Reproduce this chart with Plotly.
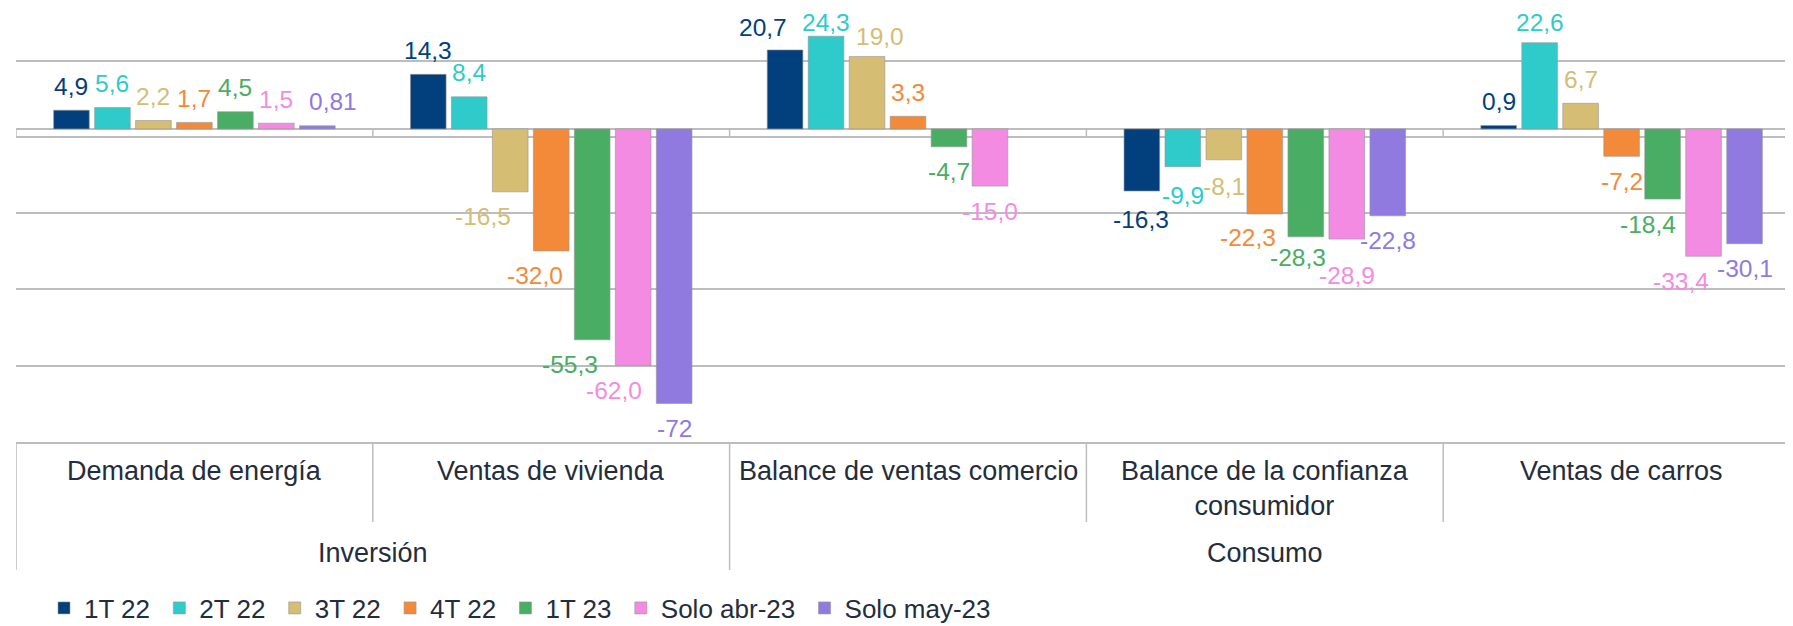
import plotly.graph_objects as go

# ---------------- data ----------------
categories = ["Demanda de energía", "Ventas de vivienda", "Balance de ventas comercio",
              "Balance de la confianza<br>consumidor", "Ventas de carros"]
groups = ["Inversión", "Consumo"]
group_members = [[0, 1], [2, 3, 4]]

series_names = ["1T 22", "2T 22", "3T 22", "4T 22", "1T 23", "Solo abr-23", "Solo may-23"]
s_1t22 = [4.9, 14.3, 20.7, -16.3, 0.9]
s_2t22 = [5.6, 8.4, 24.3, -9.9, 22.6]
s_3t22 = [2.2, -16.5, 19.0, -8.1, 6.7]
s_4t22 = [1.7, -32.0, 3.3, -22.3, -7.2]
s_1t23 = [4.5, -55.3, -4.7, -28.3, -18.4]
s_abr23 = [1.5, -62.0, -15.0, -28.9, -33.4]
s_may23 = [0.81, -72, None, -22.8, -30.1]
series_values = [s_1t22, s_2t22, s_3t22, s_4t22, s_1t23, s_abr23, s_may23]

# ---------------- style ----------------
colors = ["#023f7d", "#2ecbca", "#d5bd74", "#f38a3a", "#49ad63", "#f38be2", "#907ae0"]
FONT = "Liberation Sans, Arial, sans-serif"
TXT = "#242d3c"
GRID = "#bdbdbd"
BARGAP = 0.196
NSER = len(series_names)
W, H = 1785, 618          # page body adds an 8px margin
PLOT_H = 434
# manual label nudges (px) for labels that were moved in the original, keyed (series, category)
label_nudge = {
    (6, 0): (16, 0),
    (2, 1): (-27, 0), (3, 1): (-16, 0), (4, 1): (-22, 0), (5, 1): (-19, 0),
    (0, 2): (-22, -2), (1, 2): (0, -10), (2, 2): (13, -4),
    (0, 3): (-1, -3), (1, 3): (0, -4), (2, 3): (0, -2),
    (3, 3): (-17, 1), (4, 3): (-8, 4), (5, 3): (0, -11),
    (1, 4): (0, -4), (4, 4): (-15, 0), (5, 4): (-23, 0),
}

def fmt(v):
    return str(v).replace(".", ",")

fig = go.Figure()
xs = list(range(len(categories)))
for j, (name, vals) in enumerate(zip(series_names, series_values)):
    fig.add_trace(go.Bar(
        x=xs, y=vals, name=name + "\u2006",
        marker=dict(color=colors[j], line=dict(color="rgba(150,150,150,0.6)", width=1)),
        hoverinfo="skip",
    ))

annotations = []
slot = (1 - BARGAP) / NSER
for j, vals in enumerate(series_values):
    for i, v in enumerate(vals):
        if v is None:
            continue
        dx, dy = label_nudge.get((j, i), (0, 0))
        annotations.append(dict(
            x=i + (j - (NSER - 1) / 2) * slot, y=v, xref="x", yref="y",
            text=fmt(v), showarrow=False,
            xanchor="center", yanchor="middle",
            xshift=dx, yshift=(24 if v >= 0 else -25) + dy,
            font=dict(family=FONT, size=24.5, color=colors[j]),
        ))

# category labels
for i, c in enumerate(categories):
    annotations.append(dict(
        x=i, y=-12 / PLOT_H, xref="x", yref="paper", text=c, showarrow=False,
        xanchor="center", yanchor="top",
        font=dict(family=FONT, size=27, color=TXT),
    ))
# group labels
for g, members in zip(groups, group_members):
    annotations.append(dict(
        x=sum(members) / len(members), y=-111 / PLOT_H, xref="x", yref="paper", text=g,
        showarrow=False, xanchor="center", yanchor="middle",
        font=dict(family=FONT, size=27, color=TXT),
    ))

shapes = []
# category separators in the label area
for k in range(len(categories) + 1):
    b = k - 0.5
    is_group_edge = (k == 0) or any(b == m[0] - 0.5 for m in group_members)
    shapes.append(dict(type="line", xref="x", yref="paper", x0=b, x1=b,
                       y0=0, y1=(-128 / PLOT_H if is_group_edge else -80 / PLOT_H),
                       line=dict(color=GRID, width=1.5)))
    # small tick marks at the zero axis
    shapes.append(dict(type="line", xref="x", yref="y", x0=b, x1=b, y0=0, y1=-2.1,
                       line=dict(color=GRID, width=1.5)))

fig.update_layout(
    width=W, height=H,
    margin=dict(l=8, r=0, t=0, b=H - PLOT_H),
    paper_bgcolor="white", plot_bgcolor="white",
    barmode="group", bargap=BARGAP, bargroupgap=0.13,
    font=dict(family=FONT, color=TXT),
    showlegend=True,
    legend=dict(orientation="h", xref="container", yref="container",
                x=36 / W, y=1 - 600 / H, xanchor="left", yanchor="middle",
                font=dict(family=FONT, size=26, color=TXT),
                traceorder="normal", itemclick=False, itemdoubleclick=False),
    annotations=annotations,
    shapes=shapes,
    xaxis=dict(range=[-0.5, -0.5 + (W - 8) / 356.8], showticklabels=False, showgrid=False,
               zeroline=False, showline=True, linecolor=GRID, linewidth=1.5, ticks=""),
    yaxis=dict(range=[-82.1, 31.7], showticklabels=False, showgrid=True,
               gridcolor=GRID, gridwidth=1.5, tick0=-2.1, dtick=20,
               zeroline=True, zerolinecolor=GRID, zerolinewidth=1.5, ticks=""),
)

fig.write_html("out.html")
